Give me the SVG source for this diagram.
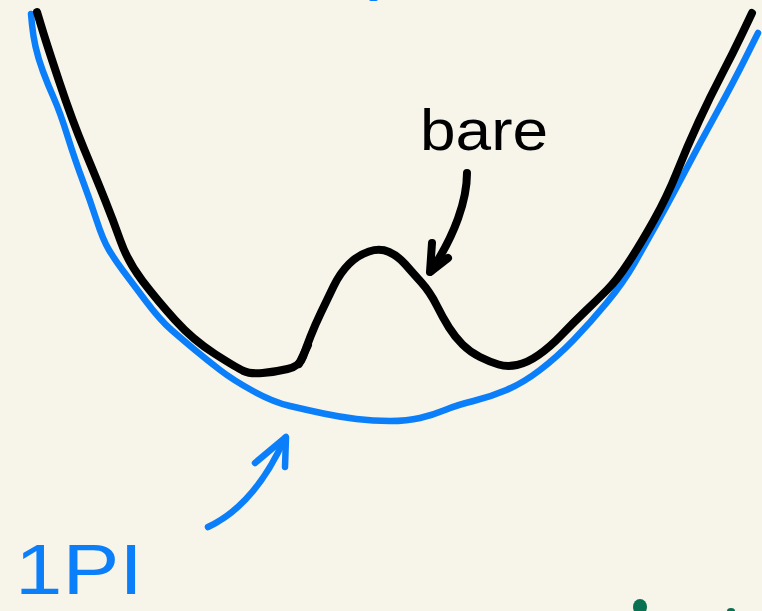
<svg xmlns="http://www.w3.org/2000/svg" width="762" height="611" viewBox="0 0 762 611">
<style>
.ink{fill:none;stroke-linecap:round;stroke-linejoin:round}
.blk{stroke:#000;stroke-width:8}
.blu{stroke:#0b7ffa;stroke-width:6.5}
.lbl{font-family:"Liberation Sans",Arial,sans-serif}
</style>
<rect width="762" height="611" fill="#f7f5e9"/>
<g id="edge-marks">
<rect x="369" y="-3" width="9" height="4" rx="2" fill="#0b7ffa"/>
<ellipse cx="640" cy="607" rx="7" ry="8" fill="#0a7052"/>
<ellipse cx="731" cy="611" rx="4" ry="3" fill="#0a7052"/>
</g>
<g id="onepi-curve">
<path class="ink blu" d="M 31,14 L 32,24.5 Q 33,35 35.5,46.5 Q 38,58 43,71.5 Q 48,85 54,98.5 Q 60,112 67.5,136 Q 75,160 82.5,180 Q 90,200 96.5,220 Q 103,240 109,250 Q 115,260 122.5,270 Q 130,280 145,300 Q 160,320 171.5,330 Q 183,340 195,350 Q 207,360 220,370 Q 233,380 253,391 Q 273,402 290,406 Q 307,410 323.5,413.5 Q 340,417 356.5,419 Q 373,421 390,421 Q 407,421 420,418 Q 433,415 445,410 Q 457,405 473.5,401 Q 490,397 506.5,390 Q 523,383 540,370 Q 557,357 573.5,340 Q 590,323 606.5,303 Q 623,283 634,264 Q 645,245 657.5,222.5 Q 670,200 685,171.5 Q 700,143 716.5,113 Q 733,83 745.5,58 L 758,33"/>
</g>
<g id="bare-curve">
<path class="ink blk" d="M 37,12 L 42,28.5 Q 47,45 59.5,82.5 Q 72,120 84.5,150 Q 97,180 105,200 Q 113,220 120.5,241 Q 128,262 142.5,281 Q 157,300 175,320 Q 193,340 215,354 Q 237,368 243.5,371 Q 250,374 262.5,373 Q 275,372 287.5,369 Q 300,366 303,357 Q 306,348 310.5,336.5 Q 315,325 321,312.5 Q 327,300 333.5,286.5 Q 340,273 349,264 Q 358,255 369,251.5 Q 380,248 389,252 Q 398,256 405,264 Q 412,272 421,282 Q 430,292 436.5,305 Q 443,318 449,327.5 Q 455,337 462.5,344.5 Q 470,352 480,357 Q 490,362 498.5,364.5 Q 507,367 517,365 Q 527,363 538.5,355 Q 550,347 561.5,335 Q 573,323 585,311.5 Q 597,300 607,290 Q 617,280 628.5,262.5 Q 640,245 653.5,221 Q 667,197 677,172 Q 687,147 698.5,122 Q 710,97 721.5,75 Q 733,53 742.5,33 L 752,13"/>
<path class="ink blk" stroke-width="10" d="M 299,364 L 308,345"/>
</g>
<g id="label-bare">
<text class="lbl" x="420" y="150" font-size="58" textLength="128" lengthAdjust="spacingAndGlyphs" fill="#000">bare</text>
</g>
<g id="label-1pi">
<text class="lbl" x="15" y="594" font-size="70" textLength="128" lengthAdjust="spacingAndGlyphs" fill="#0b7ffa">1PI</text>
</g>
<g id="connectors">
<path class="ink blk" stroke-width="6" d="M 467,173 C 467,200 455,235 431,271"/>
<path class="ink blk" stroke-width="6" d="M 432,243 L 430,272 L 448,258"/>
<path class="ink blu" d="M 208,527 Q 255,505 285,438"/>
<path class="ink blu" d="M 255,463 L 286,437 L 285,467"/>
</g>
</svg>
